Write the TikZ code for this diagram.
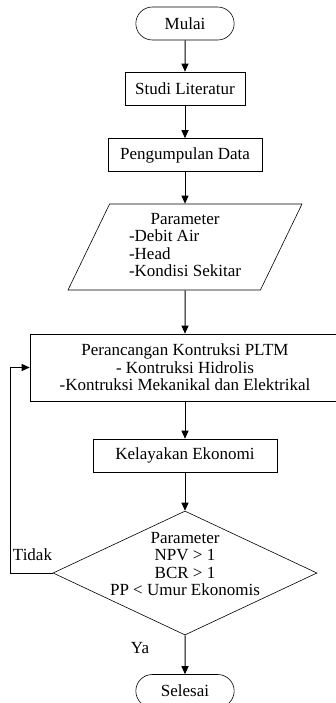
\documentclass[tikz,border=0pt]{standalone}
\usepackage{fontspec}
\setmainfont{Liberation Serif}
\usetikzlibrary{shapes.geometric,shapes.misc,arrows.meta}
\tikzset{
  proses/.style={draw,line width=0.6pt,rectangle,minimum height=33pt,inner sep=2pt},
  terminal/.style={draw,line width=0.6pt,rounded rectangle,minimum width=105pt,minimum height=33pt},
  masukan/.style={draw,line width=0.6pt,trapezium,trapezium left angle=60,trapezium right angle=120,
    trapezium stretches body,minimum width=234pt,minimum height=86pt,inner sep=1pt},
  keputusan/.style={draw,line width=0.6pt,diamond,minimum width=264pt,minimum height=124pt,inner sep=0pt},
  panah/.style={-{Triangle[length=8pt,width=7pt]},line width=1pt},
}

\begin{document}
\begin{tikzpicture}[x=1pt,y=-1pt,font=\fontsize{17}{17.5}\selectfont]
\useasboundingbox (0,0) rectangle (335,703);
%main flow
\node[terminal](mulai)at(185,23.5){Mulai};
\node[proses,minimum width=120pt](studi)at(185,88.5){Studi Literatur};
\node[proses,minimum width=154pt](data)at(185,155){Pengumpulan Data};
\node[masukan](param)at(185,247){\begin{tabular}{@{}l@{}}\multicolumn{1}{@{}c@{}}{Parameter}\\-Debit Air\\-Head\\-Kondisi Sekitar\end{tabular}};
\node[proses,minimum width=310pt,minimum height=67pt,align=center](rancang)at(185,367.5){Perancangan Kontruksi PLTM\\- Kontruksi Hidrolis\\-Kontruksi Mekanikal dan Elektrikal};
\node[proses,minimum width=184pt](ekonomi)at(185,455.5){Kelayakan Ekonomi};
\node[keputusan](cek)at(185,573){};
\node[align=center](syarat)at(185,564){Parameter\\NPV > 1\\BCR > 1\\PP < Umur Ekonomis};
\node[terminal](selesai)at(185,691){Selesai};
%arrows
\draw[panah](mulai)--(studi);
\draw[panah](studi)--(data);
\draw[panah](data)--(param);
\draw[panah](param)--(rancang);
\draw[panah](rancang)--(ekonomi);
\draw[panah](ekonomi)--(cek);
\draw[panah](cek)--(selesai);
\draw[panah](cek.west)--++(-42,0)|-(rancang.west);
%labels
\node(tidak)at(32.5,555){Tidak};
\node(ya)at(140,648){Ya};
\end{tikzpicture}
\end{document}
